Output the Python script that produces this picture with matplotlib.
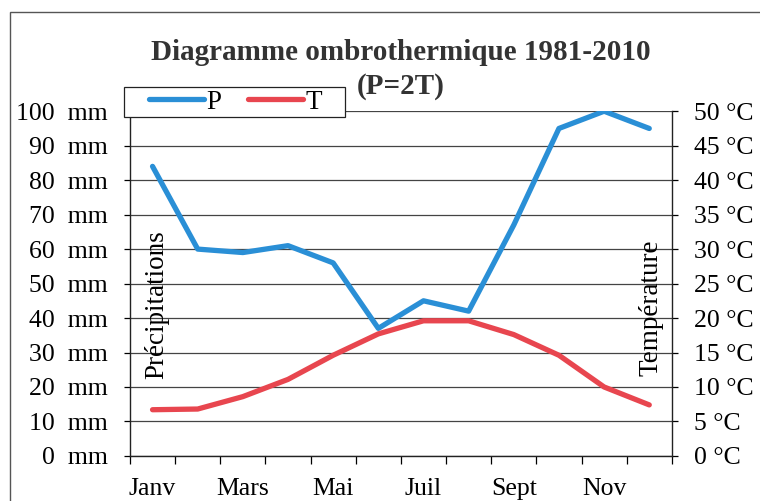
import matplotlib.pyplot as plt
from matplotlib.patches import Rectangle
from matplotlib.lines import Line2D
from matplotlib.legend_handler import HandlerLine2D

# Données (moyennes 1981-2010)
mois = ["Janv", "Févr", "Mars", "Avr", "Mai", "Juin",
        "Juil", "Août", "Sept", "Oct", "Nov", "Déc"]
precip = [84, 60, 59, 61, 56, 37, 45, 42, 67, 95, 100, 95]
temp = [6.7, 6.8, 8.6, 11.1, 14.6, 17.7, 19.6, 19.6, 17.6, 14.6, 10.0, 7.4]

tick_mm = [0, 10, 20, 30, 40, 50, 60, 70, 80, 90, 100]
tick_c = [0, 5, 10, 15, 20, 25, 30, 35, 40, 45, 50]

bleu = "#2a8fd6"
rouge = "#e8464f"
plt.rcParams["font.family"] = ["Liberation Serif", "DejaVu Serif"]
taille = 18.5


class HandlerDecale(HandlerLine2D):
    # trait de légende décalé vers la droite de la boîte de poignée
    def create_artists(self, legend, orig_handle, xdescent, ydescent,
                       width, height, fontsize, trans):
        decal = width * 0.29
        return super().create_artists(legend, orig_handle, xdescent - decal,
                                      ydescent, width - decal, height,
                                      fontsize, trans)


fig = plt.figure(figsize=(7.6, 5.01), dpi=100)
ax = fig.add_axes([0.171, 0.09, 0.713, 0.688])
ax2 = ax.twinx()

x = list(range(len(mois)))
ax.plot(x, precip, color=bleu, lw=3.8, solid_capstyle="round", zorder=3)
ax2.plot(x, temp, color=rouge, lw=3.8, solid_capstyle="round", zorder=3)

ax.set_xlim(-0.5, 11.5)
ax.set_ylim(0, 100)
ax2.set_ylim(0, 50)

ax.set_yticks(tick_mm)
ax.set_yticklabels([f"{v}  mm" for v in tick_mm])
ax2.set_yticks(tick_c)
ax2.set_yticklabels([f"{v} °C" for v in tick_c])

# ticks aux frontières des mois, étiquettes un mois sur deux
ax.set_xticks([i - 0.5 for i in range(13)])
ax.set_xticklabels([])
ax.set_xticks(x[::2], minor=True)
ax.set_xticklabels(mois[::2], minor=True)
ax.tick_params(axis="x", which="minor", length=0, labelsize=taille, pad=16)
ax.tick_params(axis="x", which="major", length=6, direction="out", width=0.9)
ax.tick_params(axis="y", labelsize=taille, length=4, width=0.9, pad=12)
ax2.tick_params(axis="y", labelsize=taille, length=4, width=0.9, pad=12)

ax.grid(axis="y", color="#444444", lw=0.9)
ax.set_axisbelow(True)
for a in (ax, ax2):
    a.spines["top"].set_visible(False)
    for s in ("left", "right", "bottom"):
        a.spines[s].set_color("#222222")
        a.spines[s].set_linewidth(1.0)
ax2.spines["left"].set_visible(False)
ax2.spines["bottom"].set_visible(False)
ax.spines["right"].set_visible(False)

ax.text(0.05, 0.44, "Précipitations", transform=ax.transAxes, rotation=90,
        ha="center", va="center", fontsize=19.5)
ax2.text(0.962, 0.43, "Température", transform=ax.transAxes, rotation=90,
         ha="center", va="center", fontsize=19.5)

fig.text(0.527, 1 - 53 / 501, "Diagramme ombrothermique 1981-2010",
         ha="center", va="center", fontsize=21, fontweight="bold",
         color="#333333")
fig.text(0.527, 1 - 86 / 501, "(P=2T)",
         ha="center", va="center", fontsize=21, fontweight="bold",
         color="#333333")

poignees = [Line2D([], [], color=bleu, lw=3.8, solid_capstyle="round"),
            Line2D([], [], color=rouge, lw=3.8, solid_capstyle="round")]
leg = fig.legend(poignees, ["P", "T   "], loc="upper left",
                 bbox_to_anchor=(124 / 760, 1 - 87 / 501), ncol=2,
                 fontsize=19.5, frameon=True, fancybox=False,
                 edgecolor="#222222", framealpha=1, handlelength=2.85,
                 handletextpad=0.1, columnspacing=0.15, borderpad=0.1,
                 borderaxespad=0,
                 handler_map={Line2D: HandlerDecale()})
leg.get_frame().set_linewidth(0.9)
leg.set_zorder(10)

# cadre extérieur du graphique
fig.patches.append(Rectangle((10 / 760, -0.1), 1.0, 1 - 12 / 501 + 0.1,
                             transform=fig.transFigure, fill=False,
                             edgecolor="#555555", lw=1.0))

fig.savefig("out.png", dpi=100)
